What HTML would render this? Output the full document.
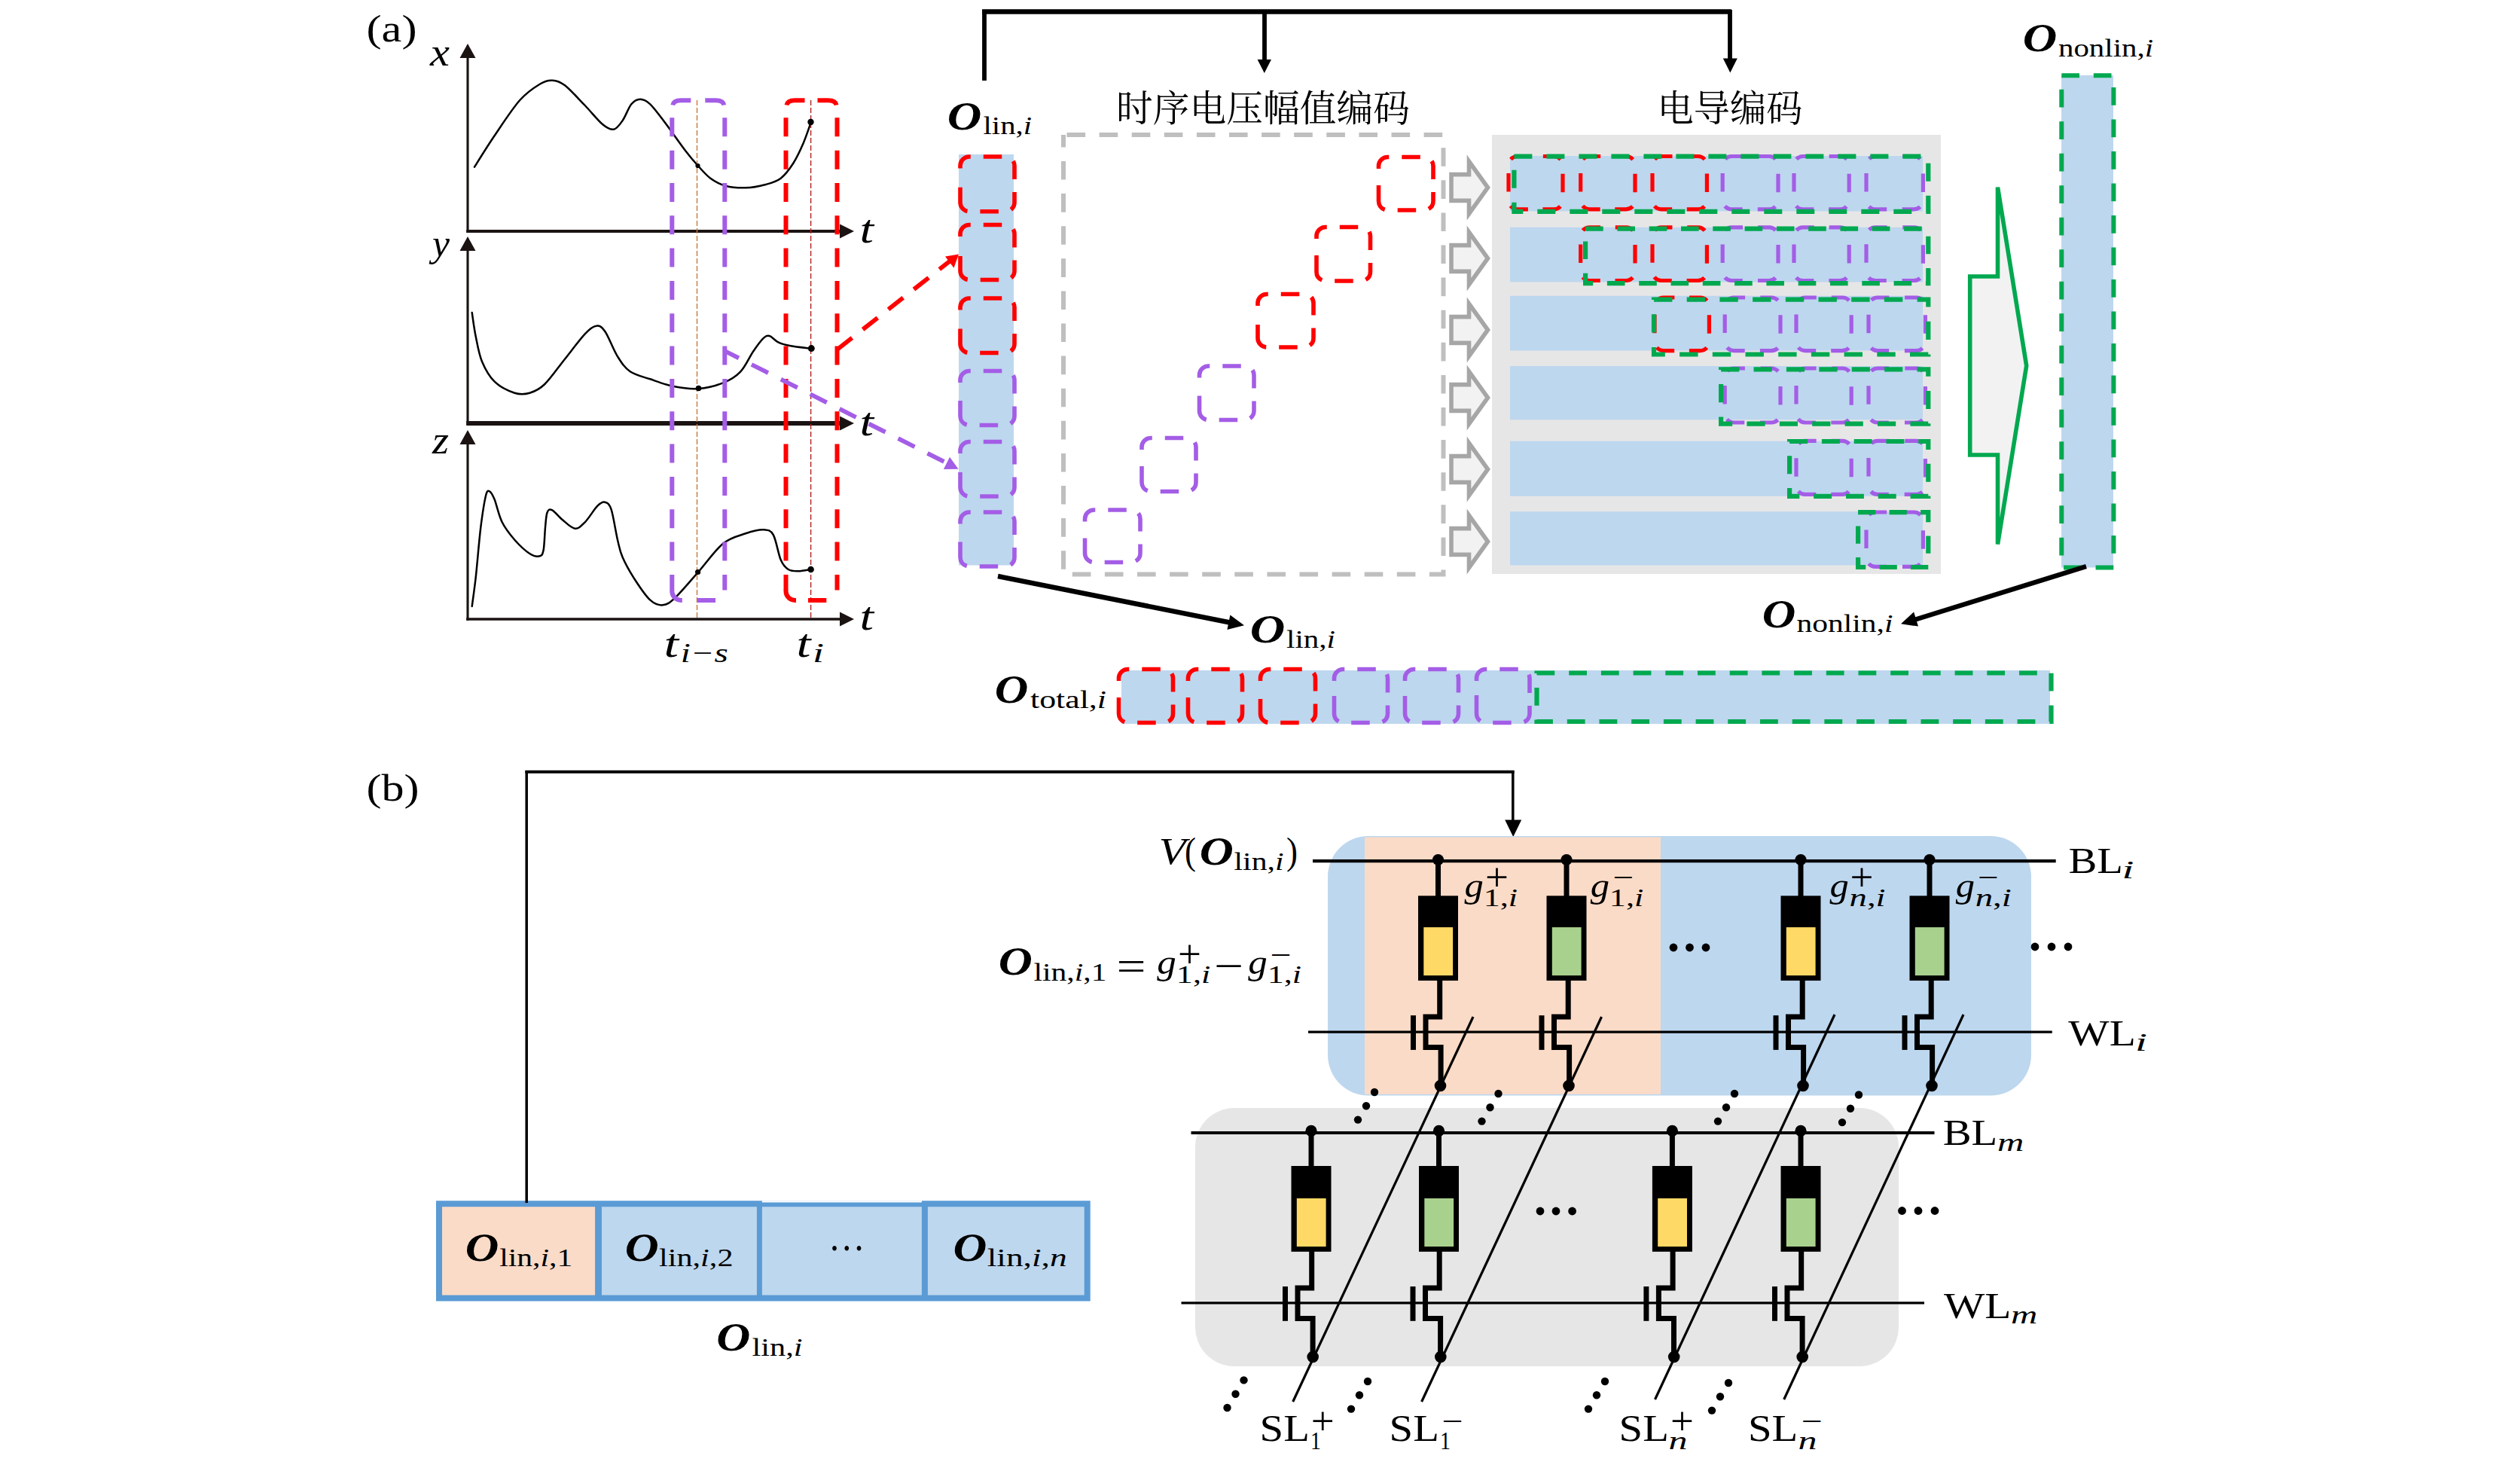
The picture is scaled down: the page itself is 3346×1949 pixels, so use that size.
<!DOCTYPE html>
<html lang="zh"><head><meta charset="utf-8"><title>figure</title>
<style>html,body{margin:0;padding:0;background:#fff}svg{display:block}text{font-family:"Liberation Serif","Noto Serif CJK SC",serif;fill:#000}</style></head><body>
<svg width="3346" height="1949" viewBox="0 0 3346 1949">
<rect width="3346" height="1949" fill="#fff"/>
<g id="panel-a">
<text x="486.5" y="55" font-size="50" textLength="67" lengthAdjust="spacingAndGlyphs">(a)</text>
<path d="M630,221.7C634.4,214.7 646.7,194.7 656.7,180C666.7,165.3 680,144.7 690,133.3C700,121.9 709.4,116.1 716.7,111.7C723.9,107.2 727.8,106.4 733.3,106.7C738.9,106.9 742.8,107.8 750,113.3C757.2,118.9 768.3,131.4 776.7,140C785,148.6 793.6,159.7 800,165C806.4,170.3 810.6,172.5 815,171.7C819.4,170.8 822.8,165.6 826.7,160C830.6,154.4 834.4,143.1 838.3,138.3C842.2,133.6 845.8,131.7 850,131.7C854.2,131.7 857.8,133.1 863.3,138.3C868.9,143.6 875.6,153.1 883.3,163.3C891.1,173.6 902.8,190.6 910,200C917.2,209.4 921.1,213.9 926.7,220C932.2,226.1 937.2,232.2 943.3,236.7C949.4,241.1 955.6,244.6 963.3,246.7C971.1,248.8 981.1,249.6 990,249.3C998.9,249.1 1008.9,247.1 1016.7,245C1024.4,242.9 1030.6,241.4 1036.7,236.7C1042.8,231.9 1048.3,224.4 1053.3,216.7C1058.3,208.9 1062.8,199 1066.7,190C1070.6,181 1075,167.2 1076.7,162.7" fill="none" stroke="#000" stroke-width="2.5" stroke-linecap="round" stroke-linejoin="round"/>
<path d="M626.7,415C627.5,420.3 629.4,435.8 631.7,446.7C633.9,457.5 635.8,470 640,480C644.2,490 649.4,499.7 656.7,506.7C663.9,513.6 675.6,519.2 683.3,521.7C691.1,524.2 696.7,523.6 703.3,521.7C710,519.7 715.6,517.5 723.3,510C731.1,502.5 741.1,487.8 750,476.7C758.9,465.6 769.7,450.7 776.7,443.3C783.6,436 787.2,433.2 791.7,432.7C796.1,432.1 798.6,433.2 803.3,440C808.1,446.8 814.4,464.4 820,473.3C825.6,482.2 829.4,488.3 836.7,493.3C843.9,498.3 853.9,500.1 863.3,503.3C872.8,506.6 882.8,510.6 893.3,512.7C903.9,514.8 915.6,516.7 926.7,516C937.8,515.3 950.6,512.1 960,508.3C969.4,504.6 976.7,500.3 983.3,493.3C990,486.4 995,474 1000,466.7C1005,459.3 1009.7,452.8 1013.3,449.3C1016.9,445.9 1018.3,445.2 1021.7,446C1025,446.8 1028.6,452.1 1033.3,454.3C1038.1,456.6 1042.8,457.9 1050,459.3C1057.2,460.7 1072.2,462.1 1076.7,462.7" fill="none" stroke="#000" stroke-width="2.5" stroke-linecap="round" stroke-linejoin="round"/>
<path d="M626.7,805C627.5,798.6 629.7,784.2 631.7,766.7C633.6,749.2 636.1,718.1 638.3,700C640.6,681.9 643.1,666.3 645,658.3C646.9,650.4 648.1,651.5 650,652.3C651.9,653.2 653.9,656.5 656.7,663.3C659.4,670.2 662.2,684.4 666.7,693.3C671.1,702.2 677.2,709.7 683.3,716.7C689.4,723.6 697.8,731.4 703.3,735C708.9,738.6 713.6,739.2 716.7,738.3C719.7,737.5 720.4,736.4 721.7,730C722.9,723.6 723.2,708.3 724,700C724.8,691.7 725.1,683.8 726.7,680C728.2,676.2 730,675.7 733.3,677.3C736.7,679 741.7,685.9 746.7,690C751.7,694.1 758.3,701.1 763.3,701.7C768.3,702.2 771.7,698.3 776.7,693.3C781.7,688.3 788.9,676.1 793.3,671.7C797.8,667.2 800.3,665.8 803.3,666.7C806.4,667.5 808.9,668.3 811.7,676.7C814.4,685 817.5,706.1 820,716.7C822.5,727.2 822.8,731.1 826.7,740C830.6,748.9 837.2,760.6 843.3,770C849.4,779.4 857.2,791.1 863.3,796.7C869.4,802.2 874.4,803.9 880,803.3C885.6,802.8 888.9,800.6 896.7,793.3C904.4,786.1 916.1,771.9 926.7,760C937.2,748.1 949.4,730.3 960,721.7C970.6,713.1 981.1,711.4 990,708.3C998.9,705.3 1007.2,703.1 1013.3,703.3C1019.4,703.6 1022.8,703.3 1026.7,710C1030.6,716.7 1033.3,735.7 1036.7,743.3C1040,751 1042.8,753.5 1046.7,756C1050.6,758.5 1055,758.3 1060,758.3C1065,758.3 1073.9,756.4 1076.7,756" fill="none" stroke="#000" stroke-width="2.5" stroke-linecap="round" stroke-linejoin="round"/>
<line x1="621" y1="70" x2="621" y2="309" stroke="#1b1212" stroke-width="3.1"/>
<line x1="619.2" y1="307" x2="1120" y2="307" stroke="#1b1212" stroke-width="4"/>
<polygon points="621,58 631.5,77 610.5,77" fill="#1b1212"/>
<polygon points="1134,307 1115,316.5 1115,297.5" fill="#1b1212"/>
<line x1="621" y1="328" x2="621" y2="564" stroke="#1b1212" stroke-width="3.1"/>
<line x1="619.2" y1="562" x2="1120" y2="562" stroke="#1b1212" stroke-width="6"/>
<polygon points="621,314 631.5,333 610.5,333" fill="#1b1212"/>
<polygon points="1134,562 1115,571.5 1115,552.5" fill="#1b1212"/>
<line x1="621" y1="585" x2="621" y2="823.8" stroke="#1b1212" stroke-width="3.1"/>
<line x1="619.2" y1="822" x2="1120" y2="822" stroke="#1b1212" stroke-width="3.6"/>
<polygon points="621,571 631.5,590 610.5,590" fill="#1b1212"/>
<polygon points="1134,822 1115,831.5 1115,812.5" fill="#1b1212"/>
<text x="571" y="87" font-size="52" font-style="italic" textLength="26" lengthAdjust="spacingAndGlyphs">x</text>
<text x="574" y="340" font-size="50" font-style="italic" textLength="23" lengthAdjust="spacingAndGlyphs">y</text>
<text x="574" y="602" font-size="52" font-style="italic" textLength="22" lengthAdjust="spacingAndGlyphs">z</text>
<text x="1141.5" y="322" font-size="52" font-style="italic" textLength="18.5" lengthAdjust="spacingAndGlyphs">t</text>
<text x="1141.5" y="578" font-size="52" font-style="italic" textLength="18.5" lengthAdjust="spacingAndGlyphs">t</text>
<text x="1141.5" y="836" font-size="52" font-style="italic" textLength="18.5" lengthAdjust="spacingAndGlyphs">t</text>
<text x="881.5" y="871.5" font-size="52" font-style="italic" textLength="19.5" lengthAdjust="spacingAndGlyphs">t</text>
<text x="903.8" y="878.5" font-size="35" font-style="italic" textLength="63" lengthAdjust="spacingAndGlyphs">i−s</text>
<text x="1057.5" y="871.5" font-size="52" font-style="italic" textLength="19" lengthAdjust="spacingAndGlyphs">t</text>
<text x="1079" y="878.5" font-size="35" font-style="italic" textLength="15" lengthAdjust="spacingAndGlyphs">i</text>
<line x1="925.5" y1="133" x2="925.5" y2="821" stroke="#C87838" stroke-width="1.4" stroke-dasharray="7 3"/>
<line x1="1076.6" y1="133" x2="1076.6" y2="821" stroke="#B02020" stroke-width="1.4" stroke-dasharray="7 3"/>
<circle cx="926.5" cy="220" r="3.1" fill="#000"/>
<circle cx="1076.5" cy="162" r="4.2" fill="#000"/>
<circle cx="927.5" cy="515.5" r="3.8" fill="#000"/>
<circle cx="1077.3" cy="462.6" r="4.5" fill="#000"/>
<circle cx="926.6" cy="759.5" r="3.6" fill="#000"/>
<circle cx="1076.6" cy="756" r="4.3" fill="#000"/>
<line x1="892.3" y1="156.3" x2="892.3" y2="783.5" stroke="#A45DE6" stroke-width="6" stroke-dasharray="25 18.33"/>
<line x1="962.3" y1="156.3" x2="962.3" y2="783.5" stroke="#A45DE6" stroke-width="6" stroke-dasharray="25 18.33"/>
<path d="M893.3,139.5 Q894.3,133.3 904.3,133.3 H917.3 M936.3,133.3 H950.3 Q960.3,133.3 961.3,139.5" fill="none" stroke="#A45DE6" stroke-width="6"/>
<path d="M892.3,783 V785 A12,12 0 0 0 904.3,797 H905.8 M925.7,797 H950" fill="none" stroke="#A45DE6" stroke-width="6"/>
<line x1="1043.5" y1="156.3" x2="1043.5" y2="783.5" stroke="#FF0000" stroke-width="6" stroke-dasharray="25 18.33"/>
<line x1="1111.5" y1="156.3" x2="1111.5" y2="783.5" stroke="#FF0000" stroke-width="6" stroke-dasharray="25 18.33"/>
<path d="M1044.5,139.5 Q1045.5,133.3 1055.5,133.3 H1068.5 M1085.5,133.3 H1099.5 Q1109.5,133.3 1110.5,139.5" fill="none" stroke="#FF0000" stroke-width="6"/>
<path d="M1043.5,783 V785 A12,12 0 0 0 1055.5,797 H1057 M1073,797 H1097.3" fill="none" stroke="#FF0000" stroke-width="6"/>
<path d="M1111.7,464 L1262,346" fill="none" stroke="#FF0000" stroke-width="5.8" stroke-dasharray="25 18.1"/>
<polygon points="1273,337.5 1255,340.5 1266.5,355.8" fill="#FF0000"/>
<path d="M962.3,466 L1257,614.7" fill="none" stroke="#A45DE6" stroke-width="5.8" stroke-dasharray="24.6 19" stroke-dashoffset="3.7"/>
<polygon points="1272.6,622.7 1252.9,622.9 1261,606.8" fill="#A45DE6"/>
<line x1="1304" y1="15.5" x2="2298.8" y2="15.5" stroke="#000" stroke-width="6.7"/>
<path d="M1307,107 V13 M2297,13 V80 M1679,15.7 V80" fill="none" stroke="#000" stroke-width="5.8"/>
<polygon points="1678.8,97 1669.6,79 1688,79" fill="#000"/>
<polygon points="2297.3,96.4 2287.8,77.4 2306.8,77.4" fill="#000"/>
<text x="1257.7" y="171.5" font-size="52" font-style="italic" font-weight="bold" textLength="45.6" lengthAdjust="spacingAndGlyphs">O</text>
<text x="1305.5" y="177.8" font-size="33" textLength="64.5" lengthAdjust="spacingAndGlyphs">lin,<tspan font-style="italic">i</tspan></text>
<rect x="1273" y="205" width="73" height="545.5" fill="#BDD7EE"/>
<path d="M1275,220A12,12 0 0 1 1287,208H1335A12,12 0 0 1 1347,220V268.7A12,12 0 0 1 1335,280.7H1287A12,12 0 0 1 1275,268.7Z" fill="none" stroke="#FF0000" stroke-width="5.6" stroke-dasharray="24.5 17 24.5 17 24.5 17 24.5 17 24.5 17 36 25.3" stroke-dashoffset="4"/>
<path d="M1275,310.5A12,12 0 0 1 1287,298.5H1335A12,12 0 0 1 1347,310.5V359.5A12,12 0 0 1 1335,371.5H1287A12,12 0 0 1 1275,359.5Z" fill="none" stroke="#FF0000" stroke-width="5.6" stroke-dasharray="24.5 17 24.5 17 24.5 17 24.5 17 24.5 17 36 25.9" stroke-dashoffset="4"/>
<path d="M1275,408A12,12 0 0 1 1287,396H1335A12,12 0 0 1 1347,408V456.5A12,12 0 0 1 1335,468.5H1287A12,12 0 0 1 1275,456.5Z" fill="none" stroke="#FF0000" stroke-width="5.6" stroke-dasharray="24.5 17 24.5 17 24.5 17 24.5 17 24.5 17 36 24.9" stroke-dashoffset="4"/>
<path d="M1275,504.5A12,12 0 0 1 1287,492.5H1335A12,12 0 0 1 1347,504.5V552.5A12,12 0 0 1 1335,564.5H1287A12,12 0 0 1 1275,552.5Z" fill="none" stroke="#A45DE6" stroke-width="5.6" stroke-dasharray="24.5 17 24.5 17 24.5 17 24.5 17 24.5 17 36 23.9" stroke-dashoffset="4"/>
<path d="M1275,598.5A12,12 0 0 1 1287,586.5H1335A12,12 0 0 1 1347,598.5V647A12,12 0 0 1 1335,659H1287A12,12 0 0 1 1275,647Z" fill="none" stroke="#A45DE6" stroke-width="5.6" stroke-dasharray="24.5 17 24.5 17 24.5 17 24.5 17 24.5 17 36 24.9" stroke-dashoffset="4"/>
<path d="M1275,692A12,12 0 0 1 1287,680H1335A12,12 0 0 1 1347,692V740A12,12 0 0 1 1335,752H1287A12,12 0 0 1 1275,740Z" fill="none" stroke="#A45DE6" stroke-width="5.6" stroke-dasharray="24.5 17 24.5 17 24.5 17 24.5 17 24.5 17 36 23.9" stroke-dashoffset="4"/>
<text x="1482" y="161" font-size="49" textLength="390" lengthAdjust="spacingAndGlyphs">时序电压幅值编码</text>
<rect x="1412" y="179" width="504.5" height="583.5" fill="none" stroke="#BFBFBF" stroke-width="6" stroke-dasharray="24.6 18.5" stroke-dashoffset="-4.5"/>
<path d="M1830.5,220.5A12,12 0 0 1 1842.5,208.5H1891A12,12 0 0 1 1903,220.5V267A12,12 0 0 1 1891,279H1842.5A12,12 0 0 1 1830.5,267Z" fill="none" stroke="#FF0000" stroke-width="5.6" stroke-dasharray="24.5 17 24.5 17 24.5 17 24.5 17 24.5 17 36 21.9" stroke-dashoffset="4"/>
<path d="M1748,313.5A12,12 0 0 1 1760,301.5H1807.5A12,12 0 0 1 1819.5,313.5V361A12,12 0 0 1 1807.5,373H1760A12,12 0 0 1 1748,361Z" fill="none" stroke="#FF0000" stroke-width="5.6" stroke-dasharray="24.5 17 24.5 17 24.5 17 24.5 17 24.5 17 36 21.9" stroke-dashoffset="4"/>
<path d="M1670,402.5A12,12 0 0 1 1682,390.5H1732A12,12 0 0 1 1744,402.5V449A12,12 0 0 1 1732,461H1682A12,12 0 0 1 1670,449Z" fill="none" stroke="#FF0000" stroke-width="5.6" stroke-dasharray="24.5 17 24.5 17 24.5 17 24.5 17 24.5 17 36 24.9" stroke-dashoffset="4"/>
<path d="M1592.5,498A12,12 0 0 1 1604.5,486H1653A12,12 0 0 1 1665,498V545.5A12,12 0 0 1 1653,557.5H1604.5A12,12 0 0 1 1592.5,545.5Z" fill="none" stroke="#A45DE6" stroke-width="5.6" stroke-dasharray="24.5 17 24.5 17 24.5 17 24.5 17 24.5 17 36 23.9" stroke-dashoffset="4"/>
<path d="M1516,593.5A12,12 0 0 1 1528,581.5H1576A12,12 0 0 1 1588,593.5V640.5A12,12 0 0 1 1576,652.5H1528A12,12 0 0 1 1516,640.5Z" fill="none" stroke="#A45DE6" stroke-width="5.6" stroke-dasharray="24.5 17 24.5 17 24.5 17 24.5 17 24.5 17 36 21.9" stroke-dashoffset="4"/>
<path d="M1440.5,689A12,12 0 0 1 1452.5,677H1502A12,12 0 0 1 1514,689V734.5A12,12 0 0 1 1502,746.5H1452.5A12,12 0 0 1 1440.5,734.5Z" fill="none" stroke="#A45DE6" stroke-width="5.6" stroke-dasharray="24.5 17 24.5 17 24.5 17 24.5 17 24.5 17 36 21.9" stroke-dashoffset="4"/>
<polygon points="1927,231.6 1950.5,231.6 1950.5,214.3 1975.5,249 1950.5,283.7 1950.5,266.4 1927,266.4" fill="#F2F2F2" stroke="#A6A6A6" stroke-width="5.6" stroke-linejoin="miter"/>
<polygon points="1927,325.6 1950.5,325.6 1950.5,308.3 1975.5,343 1950.5,377.7 1950.5,360.4 1927,360.4" fill="#F2F2F2" stroke="#A6A6A6" stroke-width="5.6" stroke-linejoin="miter"/>
<polygon points="1927,420.6 1950.5,420.6 1950.5,403.3 1975.5,438 1950.5,472.7 1950.5,455.4 1927,455.4" fill="#F2F2F2" stroke="#A6A6A6" stroke-width="5.6" stroke-linejoin="miter"/>
<polygon points="1927,510.6 1950.5,510.6 1950.5,493.3 1975.5,528 1950.5,562.7 1950.5,545.4 1927,545.4" fill="#F2F2F2" stroke="#A6A6A6" stroke-width="5.6" stroke-linejoin="miter"/>
<polygon points="1927,605.6 1950.5,605.6 1950.5,588.3 1975.5,623 1950.5,657.7 1950.5,640.4 1927,640.4" fill="#F2F2F2" stroke="#A6A6A6" stroke-width="5.6" stroke-linejoin="miter"/>
<polygon points="1927,701.6 1950.5,701.6 1950.5,684.3 1975.5,719 1950.5,753.7 1950.5,736.4 1927,736.4" fill="#F2F2F2" stroke="#A6A6A6" stroke-width="5.6" stroke-linejoin="miter"/>
<text x="2200.5" y="161" font-size="49" textLength="193" lengthAdjust="spacingAndGlyphs">电导编码</text>
<rect x="1981" y="179" width="596" height="583" fill="#E7E6E6"/>
<rect x="2005" y="207" width="548" height="73.5" fill="#BDD7EE"/>
<rect x="2005" y="301.8" width="548" height="72.7" fill="#BDD7EE"/>
<rect x="2005" y="392.8" width="548" height="72.7" fill="#BDD7EE"/>
<rect x="2005" y="486" width="548" height="71.3" fill="#BDD7EE"/>
<rect x="2005" y="585.6" width="548" height="73.1" fill="#BDD7EE"/>
<rect x="2005" y="679.1" width="548" height="71.4" fill="#BDD7EE"/>
<path d="M2003,219.5A12,12 0 0 1 2015,207.5H2063A12,12 0 0 1 2075,219.5V265.8A12,12 0 0 1 2063,277.8H2015A12,12 0 0 1 2003,265.8Z" fill="none" stroke="#FF0000" stroke-width="5.2" stroke-dasharray="24.5 19.5" stroke-dashoffset="35.4"/>
<path d="M2098.7,219.5A12,12 0 0 1 2110.7,207.5H2159A12,12 0 0 1 2171,219.5V265.8A12,12 0 0 1 2159,277.8H2110.7A12,12 0 0 1 2098.7,265.8Z" fill="none" stroke="#FF0000" stroke-width="5.2" stroke-dasharray="24.5 19.6" stroke-dashoffset="35.4"/>
<path d="M2194,219.5A12,12 0 0 1 2206,207.5H2254.4A12,12 0 0 1 2266.4,219.5V265.8A12,12 0 0 1 2254.4,277.8H2206A12,12 0 0 1 2194,265.8Z" fill="none" stroke="#FF0000" stroke-width="5.2" stroke-dasharray="24.5 19.6" stroke-dashoffset="35.4"/>
<path d="M2287.2,219.5A12,12 0 0 1 2299.2,207.5H2349A12,12 0 0 1 2361,219.5V265.8A12,12 0 0 1 2349,277.8H2299.2A12,12 0 0 1 2287.2,265.8Z" fill="none" stroke="#A45DE6" stroke-width="5.2" stroke-dasharray="24.5 20.1" stroke-dashoffset="35.4"/>
<path d="M2382,219.5A12,12 0 0 1 2394,207.5H2443.2A12,12 0 0 1 2455.2,219.5V265.8A12,12 0 0 1 2443.2,277.8H2394A12,12 0 0 1 2382,265.8Z" fill="none" stroke="#A45DE6" stroke-width="5.2" stroke-dasharray="24.5 19.9" stroke-dashoffset="35.4"/>
<path d="M2478,219.5A12,12 0 0 1 2490,207.5H2541.4A12,12 0 0 1 2553.4,219.5V265.8A12,12 0 0 1 2541.4,277.8H2490A12,12 0 0 1 2478,265.8Z" fill="none" stroke="#A45DE6" stroke-width="5.2" stroke-dasharray="24.5 20.6" stroke-dashoffset="35.4"/>
<path d="M2098.7,313.8A12,12 0 0 1 2110.7,301.8H2159A12,12 0 0 1 2171,313.8V360.5A12,12 0 0 1 2159,372.5H2110.7A12,12 0 0 1 2098.7,360.5Z" fill="none" stroke="#FF0000" stroke-width="5.2" stroke-dasharray="24.5 19.7" stroke-dashoffset="35.6"/>
<path d="M2194,313.8A12,12 0 0 1 2206,301.8H2254.4A12,12 0 0 1 2266.4,313.8V360.5A12,12 0 0 1 2254.4,372.5H2206A12,12 0 0 1 2194,360.5Z" fill="none" stroke="#FF0000" stroke-width="5.2" stroke-dasharray="24.5 19.8" stroke-dashoffset="35.6"/>
<path d="M2287.2,313.8A12,12 0 0 1 2299.2,301.8H2349A12,12 0 0 1 2361,313.8V360.5A12,12 0 0 1 2349,372.5H2299.2A12,12 0 0 1 2287.2,360.5Z" fill="none" stroke="#A45DE6" stroke-width="5.2" stroke-dasharray="24.5 20.2" stroke-dashoffset="35.6"/>
<path d="M2382,313.8A12,12 0 0 1 2394,301.8H2443.2A12,12 0 0 1 2455.2,313.8V360.5A12,12 0 0 1 2443.2,372.5H2394A12,12 0 0 1 2382,360.5Z" fill="none" stroke="#A45DE6" stroke-width="5.2" stroke-dasharray="24.5 20" stroke-dashoffset="35.6"/>
<path d="M2478,313.8A12,12 0 0 1 2490,301.8H2541.4A12,12 0 0 1 2553.4,313.8V360.5A12,12 0 0 1 2541.4,372.5H2490A12,12 0 0 1 2478,360.5Z" fill="none" stroke="#A45DE6" stroke-width="5.2" stroke-dasharray="24.5 20.8" stroke-dashoffset="35.6"/>
<path d="M2197,407A12,12 0 0 1 2209,395H2257.4A12,12 0 0 1 2269.4,407V453.6A12,12 0 0 1 2257.4,465.6H2209A12,12 0 0 1 2197,453.6Z" fill="none" stroke="#FF0000" stroke-width="5.2" stroke-dasharray="24.5 19.7" stroke-dashoffset="35.6"/>
<path d="M2290.2,407A12,12 0 0 1 2302.2,395H2352A12,12 0 0 1 2364,407V453.6A12,12 0 0 1 2352,465.6H2302.2A12,12 0 0 1 2290.2,453.6Z" fill="none" stroke="#A45DE6" stroke-width="5.2" stroke-dasharray="24.5 20.2" stroke-dashoffset="35.6"/>
<path d="M2385,407A12,12 0 0 1 2397,395H2446.2A12,12 0 0 1 2458.2,407V453.6A12,12 0 0 1 2446.2,465.6H2397A12,12 0 0 1 2385,453.6Z" fill="none" stroke="#A45DE6" stroke-width="5.2" stroke-dasharray="24.5 20" stroke-dashoffset="35.5"/>
<path d="M2481,407A12,12 0 0 1 2493,395H2544.4A12,12 0 0 1 2556.4,407V453.6A12,12 0 0 1 2544.4,465.6H2493A12,12 0 0 1 2481,453.6Z" fill="none" stroke="#A45DE6" stroke-width="5.2" stroke-dasharray="24.5 20.7" stroke-dashoffset="35.6"/>
<path d="M2290.2,501A12,12 0 0 1 2302.2,489H2352A12,12 0 0 1 2364,501V549A12,12 0 0 1 2352,561H2302.2A12,12 0 0 1 2290.2,549Z" fill="none" stroke="#A45DE6" stroke-width="5.2" stroke-dasharray="24.5 20.7" stroke-dashoffset="36.3"/>
<path d="M2385,501A12,12 0 0 1 2397,489H2446.2A12,12 0 0 1 2458.2,501V549A12,12 0 0 1 2446.2,561H2397A12,12 0 0 1 2385,549Z" fill="none" stroke="#A45DE6" stroke-width="5.2" stroke-dasharray="24.5 20.5" stroke-dashoffset="36.2"/>
<path d="M2481,501A12,12 0 0 1 2493,489H2544.4A12,12 0 0 1 2556.4,501V549A12,12 0 0 1 2544.4,561H2493A12,12 0 0 1 2481,549Z" fill="none" stroke="#A45DE6" stroke-width="5.2" stroke-dasharray="24.5 21.2" stroke-dashoffset="36.3"/>
<path d="M2385,597.4A12,12 0 0 1 2397,585.4H2446.2A12,12 0 0 1 2458.2,597.4V644.4A12,12 0 0 1 2446.2,656.4H2397A12,12 0 0 1 2385,644.4Z" fill="none" stroke="#A45DE6" stroke-width="5.2" stroke-dasharray="24.5 20.1" stroke-dashoffset="35.7"/>
<path d="M2481,597.4A12,12 0 0 1 2493,585.4H2544.4A12,12 0 0 1 2556.4,597.4V644.4A12,12 0 0 1 2544.4,656.4H2493A12,12 0 0 1 2481,644.4Z" fill="none" stroke="#A45DE6" stroke-width="5.2" stroke-dasharray="24.5 20.9" stroke-dashoffset="35.8"/>
<path d="M2478,692A12,12 0 0 1 2490,680H2541.4A12,12 0 0 1 2553.4,692V740.3A12,12 0 0 1 2541.4,752.3H2490A12,12 0 0 1 2478,740.3Z" fill="none" stroke="#A45DE6" stroke-width="5.2" stroke-dasharray="24.5 21.3" stroke-dashoffset="36.4"/>
<rect x="2010.4" y="207.7" width="549.9" height="73.1" fill="none" stroke="#00A84F" stroke-width="6.2" stroke-dasharray="24 19" stroke-dashoffset="0"/>
<rect x="2105.1" y="303.6" width="455.2" height="72.6" fill="none" stroke="#00A84F" stroke-width="6.2" stroke-dasharray="23.6 18.7" stroke-dashoffset="0"/>
<rect x="2196" y="397.7" width="364.3" height="72.8" fill="none" stroke="#00A84F" stroke-width="6.2" stroke-dasharray="24.4 19.3" stroke-dashoffset="0"/>
<rect x="2285.1" y="490.3" width="275.2" height="72.3" fill="none" stroke="#00A84F" stroke-width="6.2" stroke-dasharray="24.2 19.2" stroke-dashoffset="0"/>
<rect x="2376.1" y="586" width="184.2" height="72.8" fill="none" stroke="#00A84F" stroke-width="6.2" stroke-dasharray="23.9 18.9" stroke-dashoffset="0"/>
<rect x="2467.1" y="680.2" width="93.2" height="72.8" fill="none" stroke="#00A84F" stroke-width="6.2" stroke-dasharray="23.2 18.3" stroke-dashoffset="0"/>
<polygon points="2615.7,367 2652.5,367 2652.5,248.6 2690.7,485.6 2652.5,722.6 2652.5,604 2615.7,604" fill="#F2F2F2" stroke="#00A84F" stroke-width="5.6" stroke-linejoin="miter"/>
<text x="2685.7" y="67.5" font-size="52" font-style="italic" font-weight="bold" textLength="45.6" lengthAdjust="spacingAndGlyphs">O</text>
<text x="2733" y="75" font-size="33" textLength="126" lengthAdjust="spacingAndGlyphs">nonlin,<tspan font-style="italic">i</tspan></text>
<rect x="2737" y="100" width="69" height="653.5" fill="#BDD7EE"/>
<rect x="2737.3" y="100.2" width="69.1" height="653.3" fill="none" stroke="#00A84F" stroke-width="6" stroke-dasharray="23.7 18.8" stroke-dashoffset="0"/>
<line x1="1325" y1="765" x2="1638" y2="827.5" stroke="#000" stroke-width="6.4"/>
<polygon points="1652,830.3 1629.4,836 1633.4,816.4" fill="#000"/>
<line x1="2770" y1="752" x2="2540" y2="823.5" stroke="#000" stroke-width="6.4"/>
<polygon points="2524,828.3 2541.1,812.5 2547,831.6" fill="#000"/>
<text x="1659.7" y="852.5" font-size="52" font-style="italic" font-weight="bold" textLength="46.6" lengthAdjust="spacingAndGlyphs">O</text>
<text x="1708" y="859.5" font-size="33" textLength="65" lengthAdjust="spacingAndGlyphs">lin,<tspan font-style="italic">i</tspan></text>
<text x="2339.7" y="832.5" font-size="52" font-style="italic" font-weight="bold" textLength="44.6" lengthAdjust="spacingAndGlyphs">O</text>
<text x="2385.5" y="839" font-size="33" textLength="128" lengthAdjust="spacingAndGlyphs">nonlin,<tspan font-style="italic">i</tspan></text>
<text x="1320.7" y="932.5" font-size="52" font-style="italic" font-weight="bold" textLength="44.6" lengthAdjust="spacingAndGlyphs">O</text>
<text x="1368" y="940" font-size="33" textLength="101" lengthAdjust="spacingAndGlyphs">total,<tspan font-style="italic">i</tspan></text>
<rect x="1489" y="890" width="1233" height="71" fill="#BDD7EE"/>
<path d="M1485.5,900.5A12,12 0 0 1 1497.5,888.5H1545.5A12,12 0 0 1 1557.5,900.5V947.5A12,12 0 0 1 1545.5,959.5H1497.5A12,12 0 0 1 1485.5,947.5Z" fill="none" stroke="#FF0000" stroke-width="5.6" stroke-dasharray="24.5 17 24.5 17 24.5 17 24.5 17 24.5 17 36 21.9" stroke-dashoffset="4"/>
<path d="M1577.5,900.5A12,12 0 0 1 1589.5,888.5H1637.5A12,12 0 0 1 1649.5,900.5V947.5A12,12 0 0 1 1637.5,959.5H1589.5A12,12 0 0 1 1577.5,947.5Z" fill="none" stroke="#FF0000" stroke-width="5.6" stroke-dasharray="24.5 17 24.5 17 24.5 17 24.5 17 24.5 17 36 21.9" stroke-dashoffset="4"/>
<path d="M1673.5,900.5A12,12 0 0 1 1685.5,888.5H1734.5A12,12 0 0 1 1746.5,900.5V947.5A12,12 0 0 1 1734.5,959.5H1685.5A12,12 0 0 1 1673.5,947.5Z" fill="none" stroke="#FF0000" stroke-width="5.6" stroke-dasharray="24.5 17 24.5 17 24.5 17 24.5 17 24.5 17 36 23.9" stroke-dashoffset="4"/>
<path d="M1771.5,900.5A12,12 0 0 1 1783.5,888.5H1830.5A12,12 0 0 1 1842.5,900.5V947.5A12,12 0 0 1 1830.5,959.5H1783.5A12,12 0 0 1 1771.5,947.5Z" fill="none" stroke="#A45DE6" stroke-width="5.6" stroke-dasharray="24.5 17 24.5 17 24.5 17 24.5 17 24.5 17 36 19.9" stroke-dashoffset="4"/>
<path d="M1865.5,900.5A12,12 0 0 1 1877.5,888.5H1924.5A12,12 0 0 1 1936.5,900.5V947.5A12,12 0 0 1 1924.5,959.5H1877.5A12,12 0 0 1 1865.5,947.5Z" fill="none" stroke="#A45DE6" stroke-width="5.6" stroke-dasharray="24.5 17 24.5 17 24.5 17 24.5 17 24.5 17 36 19.9" stroke-dashoffset="4"/>
<path d="M1960.5,900.5A12,12 0 0 1 1972.5,888.5H2019A12,12 0 0 1 2031,900.5V947.5A12,12 0 0 1 2019,959.5H1972.5A12,12 0 0 1 1960.5,947.5Z" fill="none" stroke="#A45DE6" stroke-width="5.6" stroke-dasharray="24.5 17 24.5 17 24.5 17 24.5 17 24.5 17 36 18.9" stroke-dashoffset="4"/>
<rect x="2040.5" y="893.5" width="683" height="64.5" fill="none" stroke="#00A84F" stroke-width="6.2" stroke-dasharray="23.8 18.9" stroke-dashoffset="0"/>
</g>
<g id="panel-b">
<text x="486.5" y="1063" font-size="51" textLength="70" lengthAdjust="spacingAndGlyphs">(b)</text>
<rect x="583" y="1598" width="211.5" height="126" fill="#FADBC7"/>
<rect x="794.5" y="1598" width="649.2" height="126" fill="#BDD7EE"/>
<rect x="583" y="1598.2" width="860.7" height="125.3" fill="none" stroke="#5B9BD5" stroke-width="8"/>
<rect x="1011.9" y="1594.2" width="212" height="2.2" fill="#fff"/>
<line x1="794.5" y1="1598" x2="794.5" y2="1724" stroke="#5B9BD5" stroke-width="8.9"/>
<line x1="1008.4" y1="1598" x2="1008.4" y2="1724" stroke="#5B9BD5" stroke-width="7"/>
<line x1="1227.9" y1="1598" x2="1227.9" y2="1724" stroke="#5B9BD5" stroke-width="8"/>
<path d="M699.2,1597 V1023 M2008.8,1023 V1092" fill="none" stroke="#000" stroke-width="3.5"/>
<line x1="697.4" y1="1024.8" x2="2010.5" y2="1024.8" stroke="#000" stroke-width="3.9"/>
<polygon points="2009.2,1111 1998.2,1088.6 2020.2,1088.6" fill="#000"/>
<text x="617.7" y="1673.5" font-size="52" font-style="italic" font-weight="bold" textLength="44.6" lengthAdjust="spacingAndGlyphs">O</text>
<text x="663.2" y="1680.5" font-size="34" textLength="97" lengthAdjust="spacingAndGlyphs">lin,<tspan font-style="italic">i</tspan>,1</text>
<text x="829.7" y="1673.5" font-size="52" font-style="italic" font-weight="bold" textLength="45" lengthAdjust="spacingAndGlyphs">O</text>
<text x="875" y="1680.5" font-size="34" textLength="98.5" lengthAdjust="spacingAndGlyphs">lin,<tspan font-style="italic">i</tspan>,2</text>
<text x="1100" y="1659.7" font-size="54" textLength="48.5" lengthAdjust="spacingAndGlyphs">…</text>
<text x="1265.4" y="1673.5" font-size="52" font-style="italic" font-weight="bold" textLength="44.9" lengthAdjust="spacingAndGlyphs">O</text>
<text x="1310.7" y="1680.5" font-size="34" textLength="106" lengthAdjust="spacingAndGlyphs">lin,<tspan font-style="italic">i</tspan>,<tspan font-style="italic">n</tspan></text>
<text x="951.3" y="1792.5" font-size="52" font-style="italic" font-weight="bold" textLength="45.1" lengthAdjust="spacingAndGlyphs">O</text>
<text x="998.6" y="1800" font-size="33" textLength="67" lengthAdjust="spacingAndGlyphs">lin,<tspan font-style="italic">i</tspan></text>
<text x="1538.5" y="1147" font-size="50" font-style="italic" textLength="36" lengthAdjust="spacingAndGlyphs">V</text>
<text x="1573" y="1147" font-size="50" textLength="15" lengthAdjust="spacingAndGlyphs">(</text>
<text x="1592.7" y="1147.5" font-size="52" font-style="italic" font-weight="bold" textLength="45.1" lengthAdjust="spacingAndGlyphs">O</text>
<text x="1638.5" y="1154.5" font-size="33" textLength="66" lengthAdjust="spacingAndGlyphs">lin,<tspan font-style="italic">i</tspan></text>
<text x="1708" y="1147" font-size="50" textLength="15" lengthAdjust="spacingAndGlyphs">)</text>
<text x="1325.7" y="1294" font-size="52" font-style="italic" font-weight="bold" textLength="45.1" lengthAdjust="spacingAndGlyphs">O</text>
<text x="1372.5" y="1301.5" font-size="34" textLength="97" lengthAdjust="spacingAndGlyphs">lin,<tspan font-style="italic">i</tspan>,1</text>
<text x="1482.5" y="1301.5" font-size="58" textLength="39" lengthAdjust="spacingAndGlyphs">=</text>
<text x="1536.3" y="1293" font-size="46" font-style="italic" textLength="25.5" lengthAdjust="spacingAndGlyphs">g</text>
<text x="1561.8" y="1305" font-size="34" textLength="45.4" lengthAdjust="spacingAndGlyphs">1,<tspan font-style="italic">i</tspan></text>
<text x="1564" y="1284.3" font-size="52" textLength="31" lengthAdjust="spacingAndGlyphs">+</text>
<text x="1612" y="1302" font-size="58" textLength="39" lengthAdjust="spacingAndGlyphs">−</text>
<text x="1657.3" y="1293" font-size="46" font-style="italic" textLength="25.5" lengthAdjust="spacingAndGlyphs">g</text>
<text x="1682.7" y="1305" font-size="34" textLength="45.4" lengthAdjust="spacingAndGlyphs">1,<tspan font-style="italic">i</tspan></text>
<text x="1686.5" y="1281" font-size="40" textLength="28" lengthAdjust="spacingAndGlyphs">−</text>
<rect x="1763" y="1110" width="934" height="344.5" rx="54" ry="54" fill="#BDD7EE"/>
<rect x="1812" y="1111.5" width="393" height="341.3" fill="#FADBC7"/>
<rect x="1587" y="1471" width="934" height="343" rx="52" ry="52" fill="#E7E6E6"/>
<line x1="1743" y1="1143.1" x2="2729.7" y2="1143.1" stroke="#000" stroke-width="4.2"/>
<line x1="1737" y1="1370.2" x2="2724.8" y2="1370.2" stroke="#000" stroke-width="3.2"/>
<line x1="1581.5" y1="1504" x2="2568.5" y2="1504" stroke="#000" stroke-width="4.2"/>
<line x1="1568.5" y1="1729.9" x2="2555" y2="1729.9" stroke="#000" stroke-width="3.4"/>
<line x1="1956" y1="1350" x2="1716.7" y2="1861" stroke="#000" stroke-width="3.2"/>
<line x1="2126.5" y1="1350" x2="1887.6" y2="1861" stroke="#000" stroke-width="3.2"/>
<line x1="2436" y1="1347" x2="2197.5" y2="1858" stroke="#000" stroke-width="3.2"/>
<line x1="2607" y1="1347" x2="2368.7" y2="1858" stroke="#000" stroke-width="3.2"/>
<circle cx="1909.5" cy="1141.5" r="7.6" fill="#000"/>
<line x1="1909.5" y1="1143.1" x2="1909.5" y2="1190.3" stroke="#000" stroke-width="7"/>
<rect x="1883" y="1189.3" width="53" height="112.6" fill="#000"/>
<rect x="1890.3" y="1231.1" width="38.8" height="64" fill="#FFD966"/>
<path d="M1911.7,1301.1 V1350.1 H1893 V1390.5 H1913.1 V1441.1" fill="none" stroke="#000" stroke-width="7" stroke-linejoin="miter"/>
<line x1="1876.5" y1="1348.1" x2="1876.5" y2="1393.9" stroke="#000" stroke-width="7"/>
<circle cx="1912.5" cy="1441.5" r="7.8" fill="#000"/>
<circle cx="2080" cy="1141.5" r="7.6" fill="#000"/>
<line x1="2080" y1="1143.1" x2="2080" y2="1190.3" stroke="#000" stroke-width="7"/>
<rect x="2053.5" y="1189.3" width="53" height="112.6" fill="#000"/>
<rect x="2060.8" y="1231.1" width="38.8" height="64" fill="#A9D18E"/>
<path d="M2082.2,1301.1 V1350.1 H2063.5 V1390.5 H2083.6 V1441.1" fill="none" stroke="#000" stroke-width="7" stroke-linejoin="miter"/>
<line x1="2047" y1="1348.1" x2="2047" y2="1393.9" stroke="#000" stroke-width="7"/>
<circle cx="2083" cy="1441.5" r="7.8" fill="#000"/>
<circle cx="2391" cy="1141.5" r="7.6" fill="#000"/>
<line x1="2391" y1="1143.1" x2="2391" y2="1190.3" stroke="#000" stroke-width="7"/>
<rect x="2364.5" y="1189.3" width="53" height="112.6" fill="#000"/>
<rect x="2371.8" y="1231.1" width="38.8" height="64" fill="#FFD966"/>
<path d="M2393.2,1301.1 V1350.1 H2374.5 V1390.5 H2394.6 V1441.1" fill="none" stroke="#000" stroke-width="7" stroke-linejoin="miter"/>
<line x1="2358" y1="1348.1" x2="2358" y2="1393.9" stroke="#000" stroke-width="7"/>
<circle cx="2394" cy="1441.5" r="7.8" fill="#000"/>
<circle cx="2562" cy="1141.5" r="7.6" fill="#000"/>
<line x1="2562" y1="1143.1" x2="2562" y2="1190.3" stroke="#000" stroke-width="7"/>
<rect x="2535.5" y="1189.3" width="53" height="112.6" fill="#000"/>
<rect x="2542.8" y="1231.1" width="38.8" height="64" fill="#A9D18E"/>
<path d="M2564.2,1301.1 V1350.1 H2545.5 V1390.5 H2565.6 V1441.1" fill="none" stroke="#000" stroke-width="7" stroke-linejoin="miter"/>
<line x1="2529" y1="1348.1" x2="2529" y2="1393.9" stroke="#000" stroke-width="7"/>
<circle cx="2565" cy="1441.5" r="7.8" fill="#000"/>
<circle cx="1741" cy="1501.4" r="7.6" fill="#000"/>
<line x1="1741" y1="1503" x2="1741" y2="1549" stroke="#000" stroke-width="7"/>
<rect x="1714.5" y="1548" width="53" height="113.8" fill="#000"/>
<rect x="1721.8" y="1591" width="38.8" height="64" fill="#FFD966"/>
<path d="M1741.7,1661 V1710 H1723 V1750.4 H1743.1 V1801" fill="none" stroke="#000" stroke-width="7" stroke-linejoin="miter"/>
<line x1="1706.5" y1="1708" x2="1706.5" y2="1753.8" stroke="#000" stroke-width="7"/>
<circle cx="1743.2" cy="1801.4" r="7.8" fill="#000"/>
<circle cx="1910.5" cy="1501.4" r="7.6" fill="#000"/>
<line x1="1910.5" y1="1503" x2="1910.5" y2="1549" stroke="#000" stroke-width="7"/>
<rect x="1884" y="1548" width="53" height="113.8" fill="#000"/>
<rect x="1891.3" y="1591" width="38.8" height="64" fill="#A9D18E"/>
<path d="M1911.2,1661 V1710 H1892.5 V1750.4 H1912.6 V1801" fill="none" stroke="#000" stroke-width="7" stroke-linejoin="miter"/>
<line x1="1876" y1="1708" x2="1876" y2="1753.8" stroke="#000" stroke-width="7"/>
<circle cx="1912.8" cy="1801.4" r="7.8" fill="#000"/>
<circle cx="2220.4" cy="1501.4" r="7.6" fill="#000"/>
<line x1="2220.4" y1="1503" x2="2220.4" y2="1549" stroke="#000" stroke-width="7"/>
<rect x="2193.9" y="1548" width="53" height="113.8" fill="#000"/>
<rect x="2201.2" y="1591" width="38.8" height="64" fill="#FFD966"/>
<path d="M2221.1,1661 V1710 H2202.4 V1750.4 H2222.5 V1801" fill="none" stroke="#000" stroke-width="7" stroke-linejoin="miter"/>
<line x1="2185.9" y1="1708" x2="2185.9" y2="1753.8" stroke="#000" stroke-width="7"/>
<circle cx="2222.7" cy="1801.4" r="7.8" fill="#000"/>
<circle cx="2391" cy="1501.4" r="7.6" fill="#000"/>
<line x1="2391" y1="1503" x2="2391" y2="1549" stroke="#000" stroke-width="7"/>
<rect x="2364.5" y="1548" width="53" height="113.8" fill="#000"/>
<rect x="2371.8" y="1591" width="38.8" height="64" fill="#A9D18E"/>
<path d="M2391.7,1661 V1710 H2373 V1750.4 H2393.1 V1801" fill="none" stroke="#000" stroke-width="7" stroke-linejoin="miter"/>
<line x1="2356.5" y1="1708" x2="2356.5" y2="1753.8" stroke="#000" stroke-width="7"/>
<circle cx="2393.2" cy="1801.4" r="7.8" fill="#000"/>
<circle cx="2222" cy="1258" r="5.4" fill="#000"/>
<circle cx="2243.5" cy="1258" r="5.4" fill="#000"/>
<circle cx="2265" cy="1258" r="5.4" fill="#000"/>
<circle cx="2702" cy="1257" r="5.4" fill="#000"/>
<circle cx="2724" cy="1257" r="5.4" fill="#000"/>
<circle cx="2746" cy="1257" r="5.4" fill="#000"/>
<circle cx="2045" cy="1608" r="5.4" fill="#000"/>
<circle cx="2066" cy="1608" r="5.4" fill="#000"/>
<circle cx="2087.6" cy="1608" r="5.4" fill="#000"/>
<circle cx="2525.5" cy="1607.5" r="5.4" fill="#000"/>
<circle cx="2547" cy="1607.5" r="5.4" fill="#000"/>
<circle cx="2569" cy="1607.5" r="5.4" fill="#000"/>
<circle cx="1825" cy="1450" r="5.2" fill="#000"/>
<circle cx="1814" cy="1468.3" r="5.2" fill="#000"/>
<circle cx="1803" cy="1486.6" r="5.2" fill="#000"/>
<circle cx="1989.5" cy="1452" r="5.2" fill="#000"/>
<circle cx="1978.5" cy="1470.3" r="5.2" fill="#000"/>
<circle cx="1967.5" cy="1488.6" r="5.2" fill="#000"/>
<circle cx="2303" cy="1452" r="5.2" fill="#000"/>
<circle cx="2292" cy="1470.3" r="5.2" fill="#000"/>
<circle cx="2281" cy="1488.6" r="5.2" fill="#000"/>
<circle cx="2468" cy="1453.5" r="5.2" fill="#000"/>
<circle cx="2457" cy="1471.8" r="5.2" fill="#000"/>
<circle cx="2446" cy="1490.1" r="5.2" fill="#000"/>
<circle cx="1651.5" cy="1832.4" r="5.2" fill="#000"/>
<circle cx="1640.5" cy="1850.7" r="5.2" fill="#000"/>
<circle cx="1629.5" cy="1869" r="5.2" fill="#000"/>
<circle cx="1816" cy="1834" r="5.2" fill="#000"/>
<circle cx="1805" cy="1852.3" r="5.2" fill="#000"/>
<circle cx="1794" cy="1870.6" r="5.2" fill="#000"/>
<circle cx="2131" cy="1834" r="5.2" fill="#000"/>
<circle cx="2120" cy="1852.3" r="5.2" fill="#000"/>
<circle cx="2109" cy="1870.6" r="5.2" fill="#000"/>
<circle cx="2295" cy="1836" r="5.2" fill="#000"/>
<circle cx="2284" cy="1854.3" r="5.2" fill="#000"/>
<circle cx="2273" cy="1872.6" r="5.2" fill="#000"/>
<text x="1944.5" y="1190.5" font-size="46" font-style="italic" textLength="25.3" lengthAdjust="spacingAndGlyphs">g</text>
<text x="1969.7" y="1203" font-size="34" textLength="45.4" lengthAdjust="spacingAndGlyphs">1,<tspan font-style="italic">i</tspan></text>
<text x="1972.1" y="1182.4" font-size="52" textLength="31" lengthAdjust="spacingAndGlyphs">+</text>
<text x="2111.7" y="1190.5" font-size="46" font-style="italic" textLength="25.3" lengthAdjust="spacingAndGlyphs">g</text>
<text x="2136.8" y="1203" font-size="34" textLength="45.4" lengthAdjust="spacingAndGlyphs">1,<tspan font-style="italic">i</tspan></text>
<text x="2141.5" y="1178.3" font-size="40" textLength="27.6" lengthAdjust="spacingAndGlyphs">−</text>
<text x="2429.5" y="1190.5" font-size="46" font-style="italic" textLength="25.3" lengthAdjust="spacingAndGlyphs">g</text>
<text x="2455.6" y="1203" font-size="34" textLength="48" lengthAdjust="spacingAndGlyphs"><tspan font-style="italic">n</tspan>,<tspan font-style="italic">i</tspan></text>
<text x="2456.6" y="1182.4" font-size="52" textLength="31" lengthAdjust="spacingAndGlyphs">+</text>
<text x="2596.7" y="1190.5" font-size="46" font-style="italic" textLength="25.3" lengthAdjust="spacingAndGlyphs">g</text>
<text x="2622.7" y="1203" font-size="34" textLength="48" lengthAdjust="spacingAndGlyphs"><tspan font-style="italic">n</tspan>,<tspan font-style="italic">i</tspan></text>
<text x="2625.9" y="1178.3" font-size="40" textLength="27.6" lengthAdjust="spacingAndGlyphs">−</text>
<text x="2746.4" y="1158.5" font-size="49" textLength="72.5" lengthAdjust="spacingAndGlyphs">BL</text>
<text x="2817.6" y="1165.5" font-size="34" font-style="italic" textLength="16" lengthAdjust="spacingAndGlyphs">i</text>
<text x="2746.3" y="1388" font-size="49" textLength="89.5" lengthAdjust="spacingAndGlyphs">WL</text>
<text x="2834.9" y="1395.3" font-size="34" font-style="italic" textLength="16" lengthAdjust="spacingAndGlyphs">i</text>
<text x="2579.7" y="1520" font-size="49" textLength="72.5" lengthAdjust="spacingAndGlyphs">BL</text>
<text x="2652" y="1528" font-size="34" font-style="italic" textLength="35.3" lengthAdjust="spacingAndGlyphs">m</text>
<text x="2581" y="1750" font-size="49" textLength="89.5" lengthAdjust="spacingAndGlyphs">WL</text>
<text x="2670" y="1757" font-size="34" font-style="italic" textLength="35.3" lengthAdjust="spacingAndGlyphs">m</text>
<text x="1672.6" y="1913.3" font-size="50" textLength="66.3" lengthAdjust="spacingAndGlyphs">SL</text>
<text x="1740" y="1924" font-size="34" textLength="14" lengthAdjust="spacingAndGlyphs">1</text>
<text x="1740.8" y="1903.5" font-size="52" textLength="31" lengthAdjust="spacingAndGlyphs">+</text>
<text x="1844.6" y="1913.3" font-size="50" textLength="66.3" lengthAdjust="spacingAndGlyphs">SL</text>
<text x="1912" y="1924" font-size="34" textLength="14" lengthAdjust="spacingAndGlyphs">1</text>
<text x="1914.6" y="1899.6" font-size="40" textLength="28" lengthAdjust="spacingAndGlyphs">−</text>
<text x="2149.6" y="1913.3" font-size="50" textLength="66.3" lengthAdjust="spacingAndGlyphs">SL</text>
<text x="2215.6" y="1924" font-size="34" font-style="italic" textLength="25" lengthAdjust="spacingAndGlyphs">n</text>
<text x="2217.9" y="1903.5" font-size="52" textLength="31" lengthAdjust="spacingAndGlyphs">+</text>
<text x="2321" y="1913.3" font-size="50" textLength="66.3" lengthAdjust="spacingAndGlyphs">SL</text>
<text x="2387.6" y="1924" font-size="34" font-style="italic" textLength="25" lengthAdjust="spacingAndGlyphs">n</text>
<text x="2391.8" y="1899.6" font-size="40" textLength="28" lengthAdjust="spacingAndGlyphs">−</text>
</g>
</svg></body></html>
